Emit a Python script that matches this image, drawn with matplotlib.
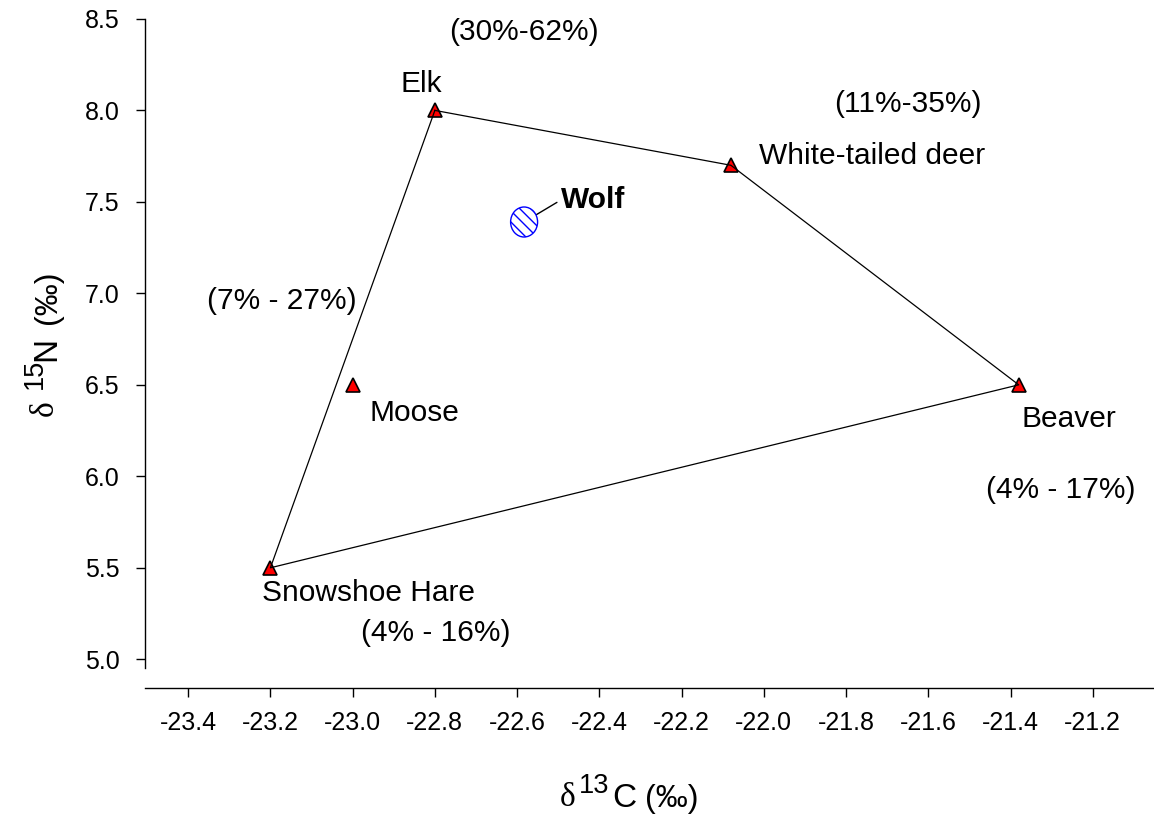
import matplotlib
matplotlib.use("Agg")
import matplotlib.pyplot as plt
from matplotlib.patches import Ellipse

plt.rcParams["font.family"] = ["Liberation Sans", "DejaVu Sans"]
plt.rcParams["axes.unicode_minus"] = False
plt.rcParams["hatch.linewidth"] = 1.0

# prey sources (mean isotope values)
species = ["Elk", "White-tailed deer", "Moose", "Beaver", "Snowshoe Hare"]
d13c = [-22.8, -22.08, -23.0, -21.38, -23.2]
d15n = [8.0, 7.7, 6.5, 6.5, 5.5]
contrib = ["(30%-62%)", "(11%-35%)", "(7% - 27%)", "(4% - 17%)", "(4% - 16%)"]

# mixing polygon order: Elk -> deer -> Beaver -> Hare -> Elk
hull = ["Elk", "White-tailed deer", "Beaver", "Snowshoe Hare", "Elk"]

wolf_c, wolf_n = -22.583, 7.39

xticks = [-23.4, -23.2, -23.0, -22.8, -22.6, -22.4, -22.2, -22.0, -21.8, -21.6, -21.4, -21.2]
yticks = [5.0, 5.5, 6.0, 6.5, 7.0, 7.5, 8.0, 8.5]

W, H = 1154, 819
fig = plt.figure(figsize=(W / 100, H / 100), dpi=100)
ax = fig.add_axes([145 / W, 1 - 688 / H, (W - 145) / W, (688 - 18) / H])
ax.set_xlim(-23.505, -21.051)
ax.set_ylim(4.843, 8.505)

# label offsets in pixels (name, percent) relative to each marker
name_off = {"Elk": (-14, 26), "White-tailed deer": (141, 9), "Moose": (62, -28),
            "Beaver": (50, -34), "Snowshoe Hare": (98, -25)}
pct_off = {"Elk": (89, 78), "White-tailed deer": (177, 61), "Moose": (-71, 84),
           "Beaver": (42, -105), "Snowshoe Hare": (165, -65)}

hx = [d13c[species.index(s)] for s in hull]
hy = [d15n[species.index(s)] for s in hull]
ax.plot(hx, hy, color="black", lw=0.9, zorder=3)
ax.plot(d13c, d15n, linestyle="none", marker="^", markersize=10,
        markerfacecolor="red", markeredgecolor="black", markeredgewidth=1.2, zorder=2)

for s, x, y, p in zip(species, d13c, d15n, contrib):
    ax.annotate(s, (x, y), xytext=name_off[s], textcoords="offset pixels",
                ha="center", va="center", fontsize=21.5, annotation_clip=False)
    ax.annotate(p, (x, y), xytext=pct_off[s], textcoords="offset pixels",
                ha="center", va="center", fontsize=21.5, annotation_clip=False)

wolf = Ellipse((wolf_c, wolf_n), width=0.0656, height=0.164, facecolor="white",
               edgecolor="blue", hatch="\\\\\\", lw=1.0, zorder=4)
ax.add_patch(wolf)
ax.annotate("Wolf", (wolf_c, wolf_n), xytext=(69, 22), textcoords="offset pixels",
            ha="center", va="center", fontsize=21.5, fontweight="bold",
            arrowprops=dict(arrowstyle="-", color="black", lw=1.0,
                            shrinkA=1, shrinkB=10, relpos=(0, 0.5)))

ax.set_xticks(xticks)
ax.set_xticklabels(["%.1f" % v for v in xticks])
ax.set_yticks(yticks)
ax.set_yticklabels(["%.1f" % v for v in yticks])
ax.tick_params(direction="out", length=6.5, width=1, labelsize=18)
ax.tick_params(axis="x", pad=10)
ax.tick_params(axis="y", pad=12)

for side in ["top", "right"]:
    ax.spines[side].set_visible(False)
ax.spines["left"].set_bounds(4.955, 8.5)
ax.spines["left"].set_linewidth(1.0)
ax.spines["bottom"].set_linewidth(1.0)


def fx(px):
    return px / W


def fy(py):
    return 1 - py / H


# x axis title: delta 13 C (permil)
fig.text(fx(560), fy(806), "\u03b4", family="Liberation Serif", fontsize=24, va="baseline")
fig.text(fx(579), fy(793), "13", fontsize=19.5, va="baseline")
fig.text(fx(612), fy(807), "C", fontsize=24, va="baseline")
fig.text(fx(645), fy(807), "(\u2030)", fontsize=23, va="baseline")

# y axis title: delta 15 N (permil), rotated
kw = dict(rotation=90, rotation_mode="anchor", ha="left", va="baseline")
fig.text(fx(53), fy(416), "\u03b4", family="Liberation Serif", fontsize=24, **kw)
fig.text(fx(42), fy(389), "15", fontsize=19.5, **kw)
fig.text(fx(55), fy(361), "N", fontsize=24, **kw)
fig.text(fx(56), fy(324), "(\u2030)", fontsize=23, **kw)

fig.savefig("out.png", dpi=100)
